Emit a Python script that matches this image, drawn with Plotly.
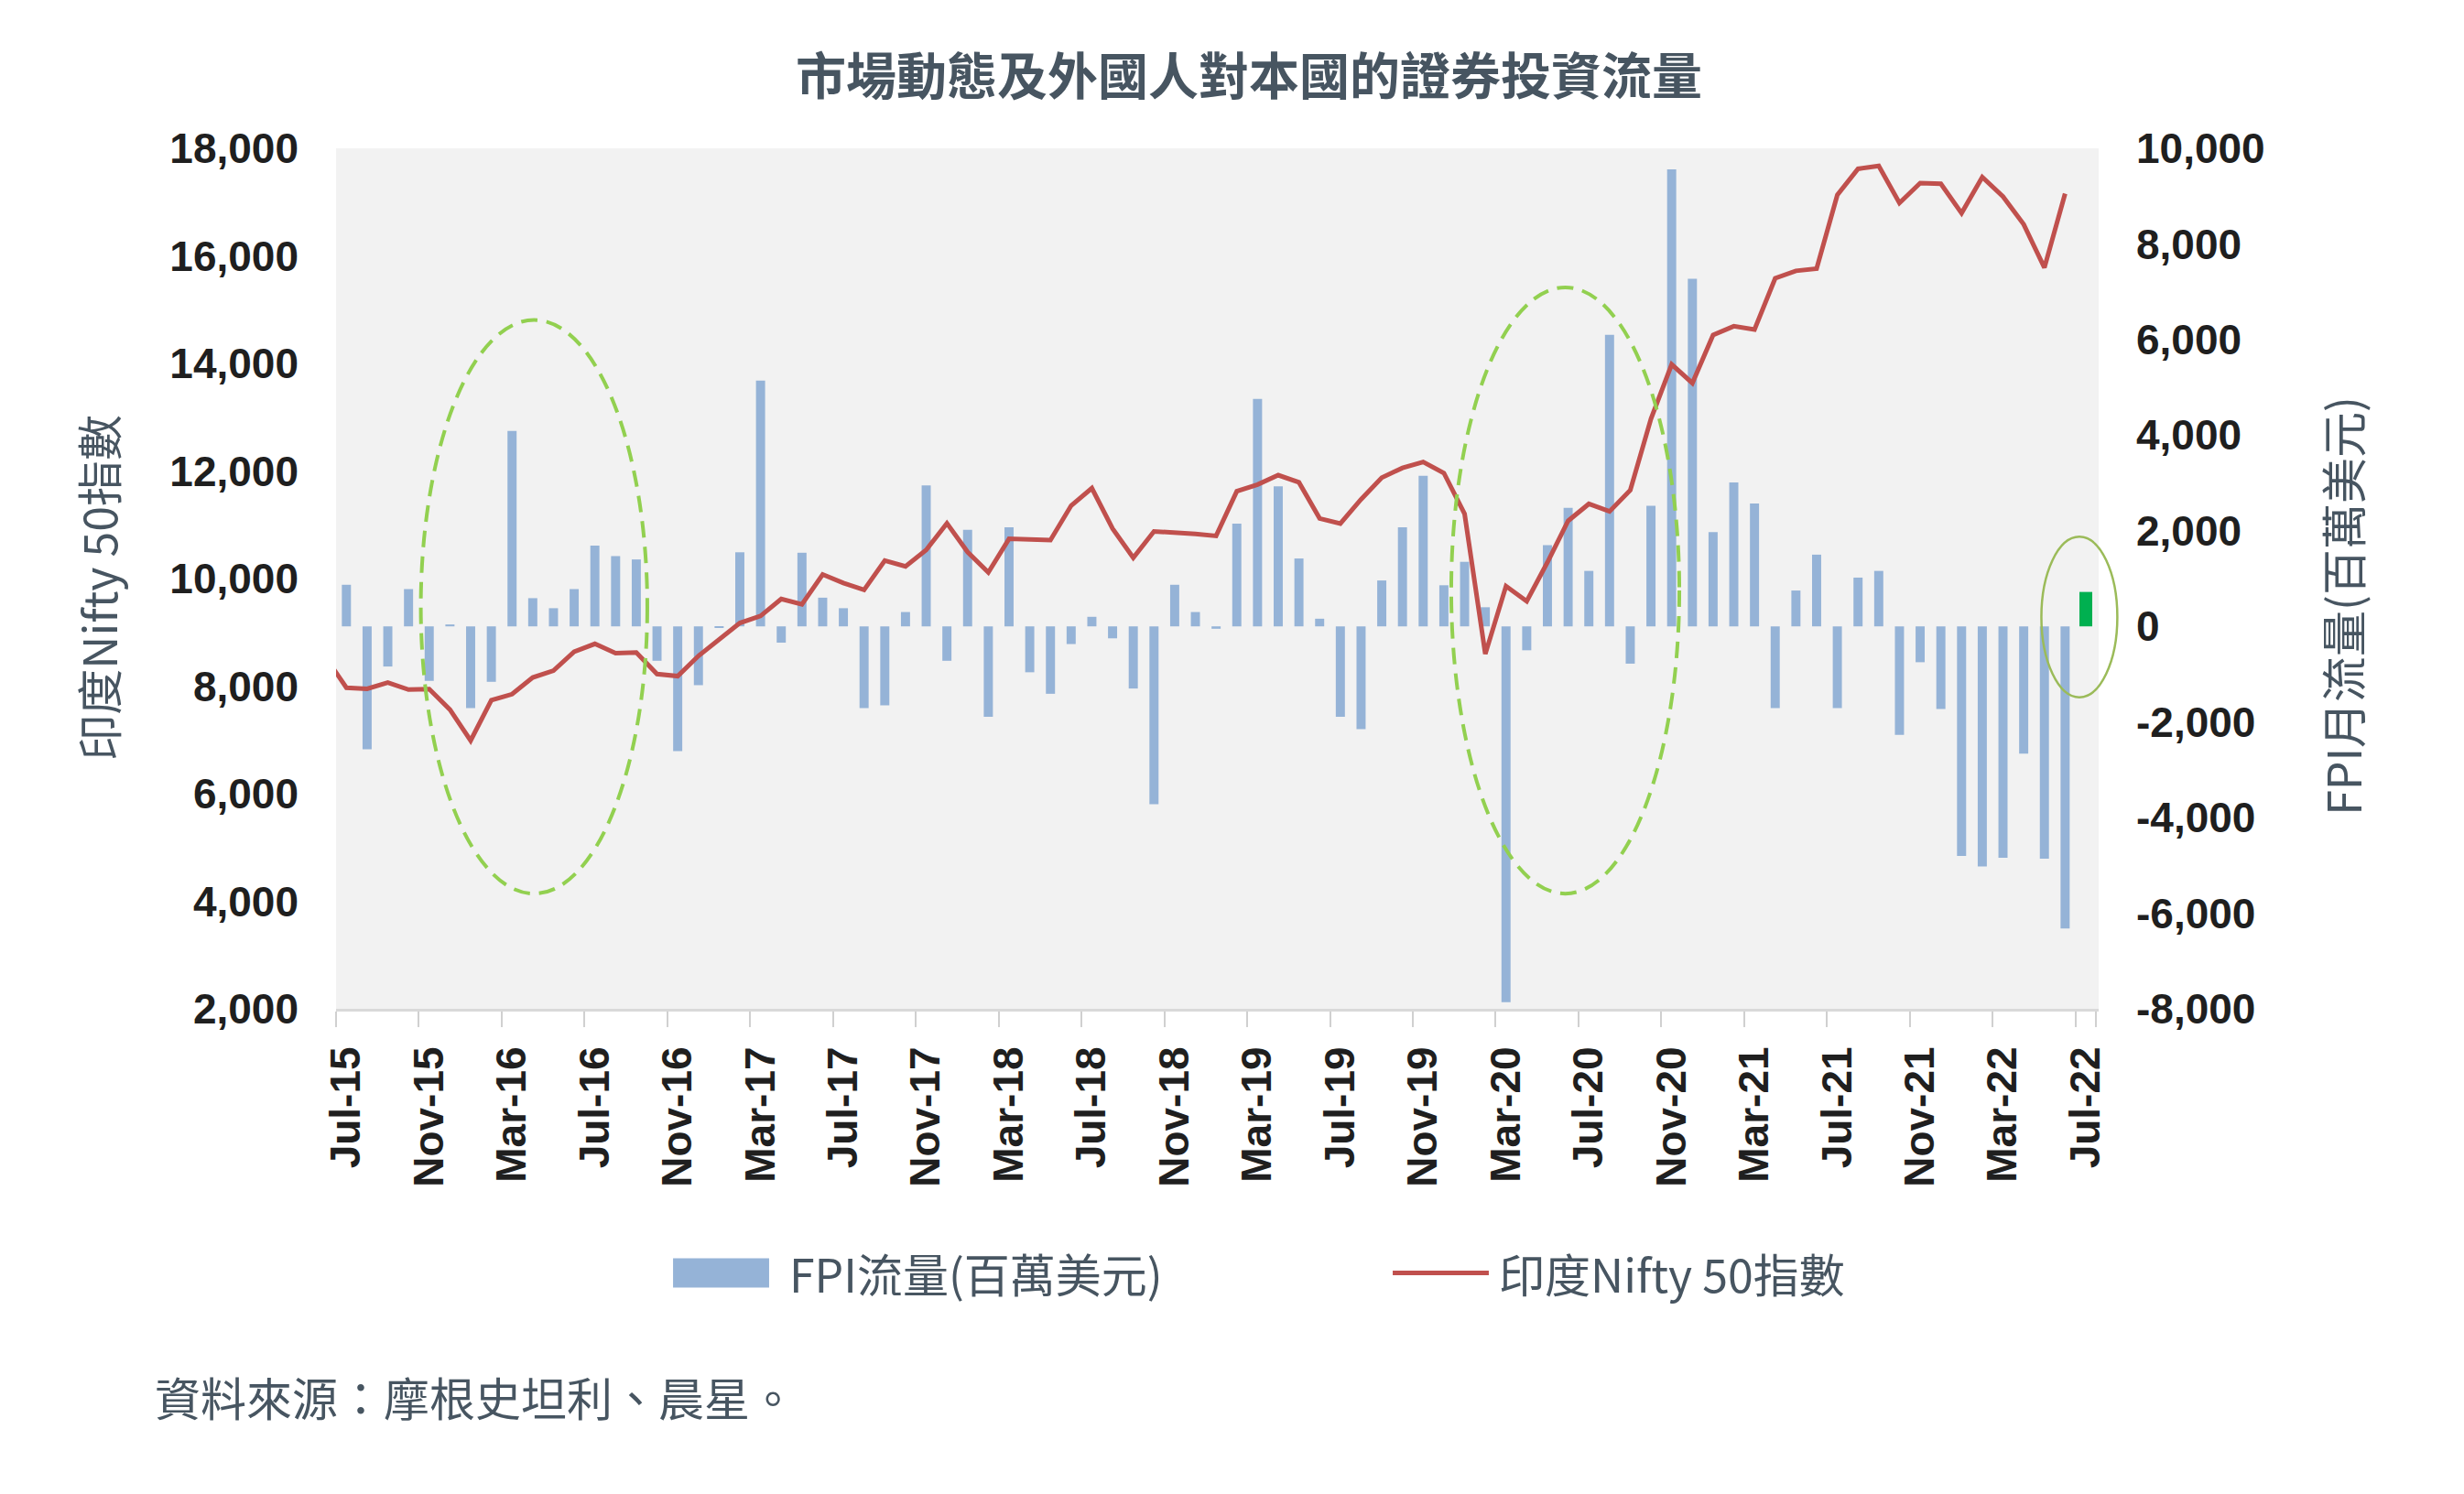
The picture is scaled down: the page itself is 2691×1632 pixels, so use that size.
import pandas as pd
import plotly.graph_objects as go

# monthly categories Jul-15 .. Jul-22
months = pd.date_range("2015-07-01", "2022-07-01", freq="MS").strftime("%b-%y").tolist()
label_months = months[::4]

# FPI monthly flow (USD mn)
fpi_flow = [
    870, -2570, -840, 780, -1140, 40,
    -1710, -1160, 4090, 590, 380, 780, 1690, 1470, 1400, -720, -2610, -1230,
    -30, 1550, 5140, -340, 1540, 600, 380, -1710, -1650, 300, 2950, -720,
    2020, -1890, 2070, -960, -1410, -370, 200, -250, -1300, -3720, 870, 300,
    -50, 2150, 4760, 2930, 1420, 160, -1890, -2150, 960, 2070, 3150, 860,
    1350, 400, -7860, -500, 1700, 2480, 1160, 6100, -780, 2520, 9560, 7270,
    1970, 3010, 2570, -1710, 750, 1500, -1710, 1020, 1160, -2270, -750, -1730,
    -4800, -5020, -4840, -2660, -4860, -6320, 720,
]

# Nifty 50 index level
nifty = [
    8533, 7971, 7949, 8066, 7935, 7946,
    7564, 6987, 7738, 7850, 8160, 8288, 8639, 8786, 8611, 8626, 8224, 8186,
    8561, 8880, 9174, 9304, 9621, 9521, 10077, 9918, 9789, 10335, 10227, 10531,
    11028, 10493, 10114, 10739, 10736, 10714, 11357, 11681, 10930, 10387, 10877, 10863,
    10831, 10793, 11624, 11748, 11923, 11789, 11118, 11023, 11474, 11877, 12056, 12168,
    11962, 11202, 8598, 9860, 9580, 10302, 11073, 11388, 11248, 11642, 12969, 13982,
    13635, 14529, 14691, 14631, 15583, 15722, 15763, 17132, 17618, 17672, 16983, 17354,
    17340, 16794, 17465, 17103, 16585, 15780, 17158,
]

nifty_ticks = [2000, 4000, 6000, 8000, 10000, 12000, 14000, 16000, 18000]
nifty_ticktext = ["2,000", "4,000", "6,000", "8,000", "10,000", "12,000", "14,000", "16,000", "18,000"]
fpi_ticks = [-8000, -6000, -4000, -2000, 0, 2000, 4000, 6000, 8000, 10000]
fpi_ticktext = ["-8,000", "-6,000", "-4,000", "-2,000", "0", "2,000", "4,000", "6,000", "8,000", "10,000"]

BLUE = "#95B3D7"
GREEN = "#00B050"
RED = "#C0504D"
SLATE = "#475561"
CJK = "Noto Sans CJK TC"

# latest month highlighted in green
bar_colors = [BLUE] * (len(fpi_flow) - 1) + [GREEN]
bar_widths = [0.44] * (len(fpi_flow) - 1) + [0.62]

fig = go.Figure()

fig.add_trace(go.Bar(
    x=months, y=fpi_flow,
    marker=dict(color=bar_colors, line=dict(width=0)),
    width=bar_widths,
    xaxis="x", yaxis="y",
    showlegend=False,
))

fig.add_trace(go.Scatter(
    x=months, y=nifty,
    mode="lines",
    line=dict(color=RED, width=5),
    xaxis="x2", yaxis="y2",
    showlegend=False,
))

tickfont = dict(family="Liberation Sans", size=46, color="#1F1F1F", weight="bold")

fig.update_layout(
    width=2691, height=1632,
    margin=dict(l=359, r=407, t=154, b=538),
    paper_bgcolor="white",
    plot_bgcolor="#F2F2F2",
    barmode="overlay",
    title=dict(
        text="市場動態及外國人對本國的證券投資流量",
        font=dict(family=CJK, size=55, color=SLATE, weight="bold"),
        x=1356 / 2691, xref="container", xanchor="center",
        y=1 - 76 / 1632, yref="container", yanchor="middle",
    ),
    xaxis=dict(
        type="category", categoryorder="array", categoryarray=months,
        range=[-0.5, 84.62],
        tickmode="array", tickvals=label_months, ticktext=label_months,
        tickangle=-90, tickfont=tickfont,
        ticks="outside", tickson="boundaries", ticklen=17, tickwidth=2, tickcolor="#D0D0D0",
        ticklabelstandoff=20,
        showline=True, linecolor="#D9D9D9", linewidth=3,
        showgrid=False, zeroline=False,
        anchor="y",
    ),
    # the index line sits one month to the left of the bars, as in the source
    xaxis2=dict(
        type="category", categoryorder="array", categoryarray=months,
        range=[0.5, 85.62],
        overlaying="x", visible=False, anchor="y2",
    ),
    yaxis=dict(
        side="right", range=[-8000, 10000],
        tickmode="array", tickvals=fpi_ticks, ticktext=fpi_ticktext,
        tickfont=tickfont, ticklabelstandoff=40,
        showgrid=False, zeroline=False, showline=False,
    ),
    yaxis2=dict(
        side="left", overlaying="y", range=[2000, 18000],
        tickmode="array", tickvals=nifty_ticks, ticktext=nifty_ticktext,
        tickfont=tickfont, ticklabelstandoff=40,
        showgrid=False, zeroline=False, showline=False,
    ),
)

# highlight ellipses
fig.add_shape(type="circle", xref="paper", yref="paper",
              x0=0.0481, x1=0.1766, y0=0.1339, y1=0.8005,
              line=dict(color="#92D050", width=4, dash="18px,10px"))
fig.add_shape(type="circle", xref="paper", yref="paper",
              x0=0.6327, x1=0.7621, y0=0.1339, y1=0.8384,
              line=dict(color="#92D050", width=4, dash="18px,10px"))
fig.add_shape(type="circle", xref="paper", yref="paper",
              x0=0.9675, x1=1.0106, y0=0.362, y1=0.5486,
              line=dict(color="#9BBB59", width=2.5))

# axis titles
fig.add_annotation(text="印度Nifty 50指數", xref="paper", yref="paper",
                   x=-0.1356, y=0.4896, xanchor="center", yanchor="middle",
                   textangle=-90, showarrow=False,
                   font=dict(family=CJK, size=50, color=SLATE))
fig.add_annotation(text="FPI月流量(百萬美元)", xref="paper", yref="paper",
                   x=1.1377, y=0.4683, xanchor="center", yanchor="middle",
                   textangle=-90, showarrow=False,
                   font=dict(family=CJK, size=50, color=SLATE))

# legend drawn by hand so the swatches match the source size
fig.add_shape(type="rect", xref="paper", yref="paper",
              x0=0.1912, x1=0.2457, y0=-0.3239, y1=-0.2899,
              fillcolor=BLUE, line=dict(width=0))
fig.add_annotation(text="FPI流量(百萬美元)", xref="paper", yref="paper",
                   x=0.2561, y=-0.3069, xanchor="left", yanchor="middle", showarrow=False,
                   font=dict(family=CJK, size=50, color=SLATE))
fig.add_shape(type="line", xref="paper", yref="paper",
              x0=0.5995, x1=0.6540, y0=-0.3069, y1=-0.3069,
              line=dict(color=RED, width=5))
fig.add_annotation(text="印度Nifty 50指數", xref="paper", yref="paper",
                   x=0.6587, y=-0.3069, xanchor="left", yanchor="middle", showarrow=False,
                   font=dict(family=CJK, size=50, color=SLATE))

# source note
fig.add_annotation(text="資料來源：摩根史坦利、晨星。", xref="paper", yref="paper",
                   x=-0.1039, y=-0.4504, xanchor="left", yanchor="middle", showarrow=False,
                   font=dict(family=CJK, size=50, color=SLATE))

fig.write_html("out.html")
